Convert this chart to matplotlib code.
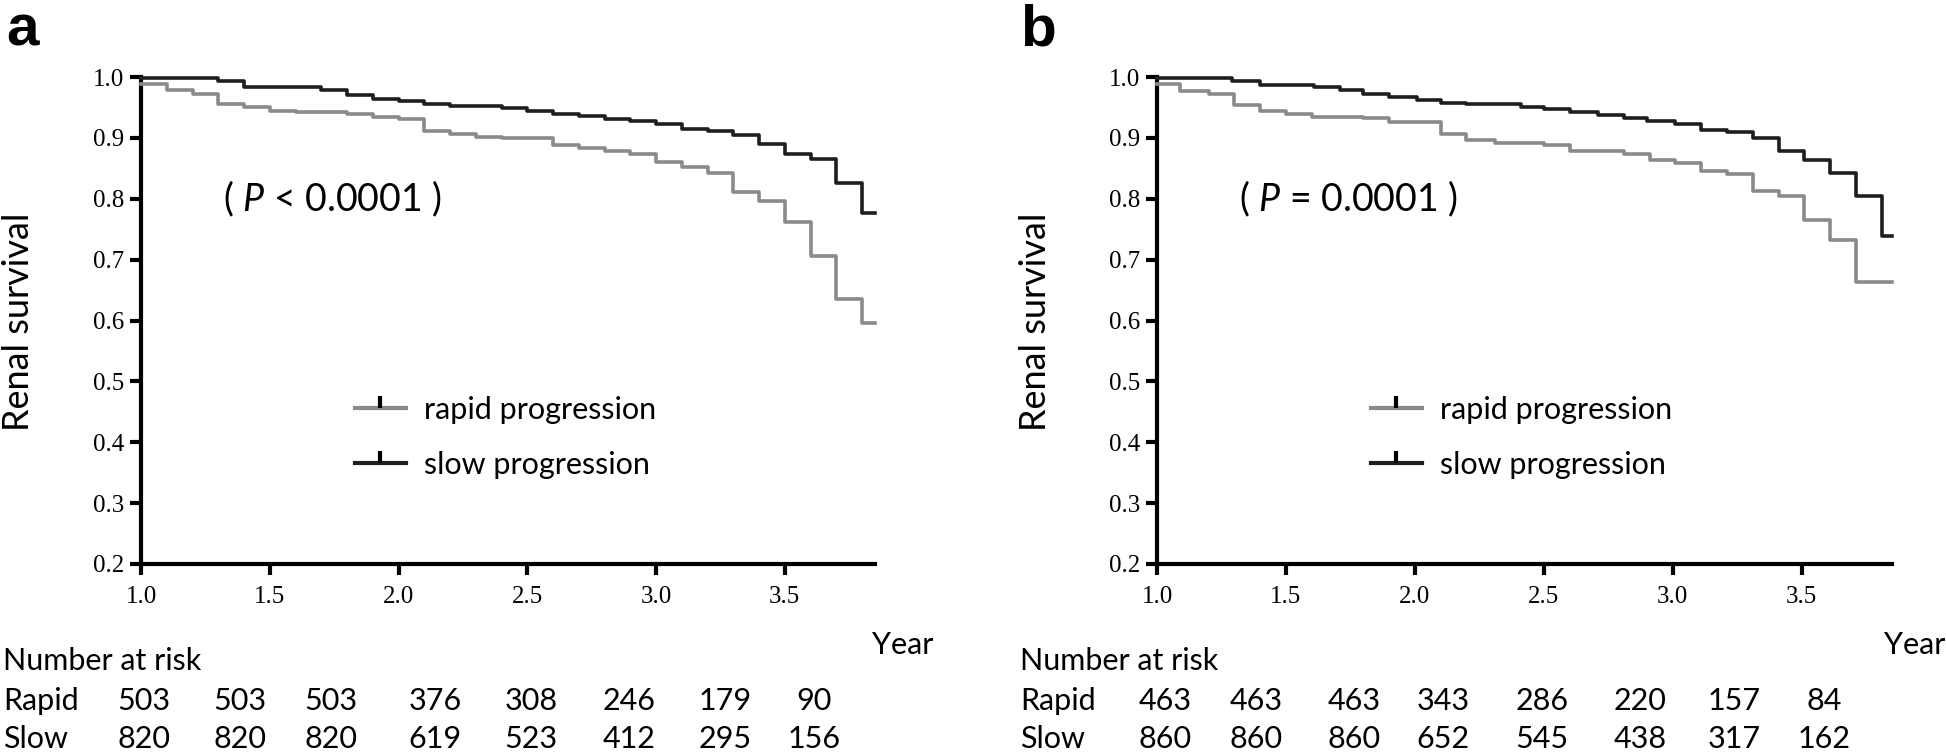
import matplotlib
matplotlib.use("Agg")
import matplotlib.pyplot as plt
from matplotlib.lines import Line2D

plt.rcParams['font.family'] = ['Lato', 'DejaVu Sans']
plt.rcParams['mathtext.fontset'] = 'custom'
plt.rcParams['mathtext.it'] = 'Lato:italic'
plt.rcParams['mathtext.rm'] = 'Lato'

# panel a - survival steps
a_slow_t = [1.0, 1.30, 1.40, 1.70, 1.80, 1.90, 2.00, 2.10, 2.20, 2.40, 2.50, 2.60,
            2.70, 2.80, 2.90, 3.00, 3.10, 3.20, 3.30, 3.40, 3.50, 3.60, 3.70, 3.80]
a_slow_s = [0.998, 0.994, 0.984, 0.979, 0.970, 0.964, 0.960, 0.956, 0.953, 0.949, 0.944, 0.940,
            0.936, 0.931, 0.927, 0.922, 0.915, 0.911, 0.904, 0.890, 0.873, 0.865, 0.826, 0.776]
a_rapid_t = [1.0, 1.10, 1.20, 1.30, 1.40, 1.50, 1.60, 1.80, 1.90, 2.00, 2.10, 2.20, 2.30, 2.40,
             2.60, 2.70, 2.80, 2.90, 3.00, 3.10, 3.20, 3.30, 3.40, 3.50, 3.60, 3.70, 3.80]
a_rapid_s = [0.989, 0.978, 0.972, 0.956, 0.950, 0.944, 0.942, 0.939, 0.934, 0.931, 0.912, 0.906,
             0.902, 0.899, 0.889, 0.883, 0.878, 0.873, 0.861, 0.852, 0.843, 0.811, 0.796, 0.761,
             0.706, 0.636, 0.596]

# panel b
b_slow_t = [1.0, 1.29, 1.40, 1.61, 1.71, 1.80, 1.90, 2.01, 2.10, 2.20, 2.41, 2.50, 2.60,
            2.71, 2.81, 2.90, 3.01, 3.11, 3.21, 3.31, 3.41, 3.51, 3.61, 3.71, 3.81]
b_slow_s = [0.998, 0.994, 0.987, 0.984, 0.979, 0.972, 0.967, 0.962, 0.958, 0.956, 0.950, 0.947,
            0.943, 0.937, 0.932, 0.928, 0.922, 0.913, 0.909, 0.899, 0.878, 0.863, 0.842, 0.804, 0.738]
b_rapid_t = [1.0, 1.09, 1.20, 1.30, 1.40, 1.50, 1.60, 1.80, 1.90, 2.10, 2.20, 2.31, 2.50, 2.60,
             2.81, 2.91, 3.01, 3.11, 3.21, 3.31, 3.41, 3.51, 3.61, 3.71]
b_rapid_s = [0.989, 0.977, 0.972, 0.954, 0.944, 0.939, 0.935, 0.932, 0.926, 0.906, 0.896, 0.891,
             0.888, 0.878, 0.873, 0.864, 0.859, 0.846, 0.840, 0.812, 0.804, 0.765, 0.732, 0.664]

t_end = 3.85
x_ticks = [1.0, 1.5, 2.0, 2.5, 3.0, 3.5]
y_ticks = [0.2, 0.3, 0.4, 0.5, 0.6, 0.7, 0.8, 0.9, 1.0]

# number at risk
a_risk_rapid = [503, 503, 503, 376, 308, 246, 179, 90]
a_risk_slow = [820, 820, 820, 619, 523, 412, 295, 156]
b_risk_rapid = [463, 463, 463, 343, 286, 220, 157, 84]
b_risk_slow = [860, 860, 860, 652, 545, 438, 317, 162]

p_texts = [r"( $P$ < 0.0001 )", r"( $P$ = 0.0001 )"]
panel_names = ["a", "b"]

W, H = 1946, 753
fig = plt.figure(figsize=(W / 100, H / 100), dpi=100)

def fx(x):
    return x / W

def fy(y):
    return 1 - y / H

SLOW_C = "#1e1e1e"
RAPID_C = "#8a8a8a"

# pixel layout of each panel
panels = [
    dict(left=141, right=875, top=77, bottom=564, name_x=6, tx0=3, ylab_x=19,
         risk_x=[144, 240, 331, 435, 531, 629, 725, 814], year_x=903,
         slow_t=a_slow_t, slow_s=a_slow_s, rapid_t=a_rapid_t, rapid_s=a_rapid_s,
         rr=a_risk_rapid, rs=a_risk_slow),
    dict(left=1157, right=1892, top=77, bottom=564, name_x=1020, tx0=1020, ylab_x=1035,
         risk_x=[1165, 1256, 1354, 1443, 1542, 1640, 1734, 1824], year_x=1915,
         slow_t=b_slow_t, slow_s=b_slow_s, rapid_t=b_rapid_t, rapid_s=b_rapid_s,
         rr=b_risk_rapid, rs=b_risk_slow),
]

for i, p in enumerate(panels):
    w = p['right'] - p['left']
    h = p['bottom'] - p['top']
    ax = fig.add_axes([fx(p['left']), fy(p['bottom']), fx(w), h / H])
    ax.step(p['rapid_t'] + [t_end], p['rapid_s'] + [p['rapid_s'][-1]], where='post',
            color=RAPID_C, lw=2.6, clip_on=False, zorder=3)
    ax.step(p['slow_t'] + [t_end], p['slow_s'] + [p['slow_s'][-1]], where='post',
            color=SLOW_C, lw=2.6, clip_on=False, zorder=4)
    ax.set_xlim(1.0, t_end)
    ax.set_ylim(0.2, 1.0)
    ax.set_xticks(x_ticks)
    ax.set_yticks(y_ticks)
    ax.set_xticklabels([f"{v:.1f}" for v in x_ticks], family='Liberation Serif', fontsize=18)
    ax.set_yticklabels([f"{v:.1f}" for v in y_ticks], family='Liberation Serif', fontsize=18)
    ax.tick_params(length=8, width=3, pad=4, color='black')
    ax.tick_params(axis='x', pad=8)
    for s in ['top', 'right']:
        ax.spines[s].set_visible(False)
    for s in ['left', 'bottom']:
        ax.spines[s].set_linewidth(3)

    fig.text(fx(p['ylab_x']), fy(322), "Renal survival", fontsize=26, rotation=90,
             ha='center', va='center')

    ax.text((223 - 141) / w, 1 - (199 - 77) / h, p_texts[i],
            transform=ax.transAxes, fontsize=27, va='center', ha='left')

    handles = [Line2D([], [], color=RAPID_C, lw=3, marker=2, markersize=9, mew=3, mec='black'),
               Line2D([], [], color=SLOW_C, lw=3, marker=2, markersize=9, mew=3, mec='black')]
    ax.legend(handles, ["rapid progression", "slow progression"], frameon=False,
              fontsize=22, loc='upper left', numpoints=1, handlelength=1.7, handletextpad=0.57,
              labelspacing=0.9,
              bbox_to_anchor=((327 - 141) / w, 1 - (368 - 77) / h))

    fig.text(fx(p['name_x']), fy(45), panel_names[i], fontsize=42, fontweight='bold',
             family='Liberation Sans', ha='left', va='baseline')

    fig.text(fx(p['year_x']), fy(645), "Year", fontsize=22, ha='center', va='center')
    fig.text(fx(p['tx0']), fy(661), "Number at risk", fontsize=22, ha='left', va='center')
    fig.text(fx(p['tx0']), fy(701), "Rapid", fontsize=22, ha='left', va='center')
    fig.text(fx(p['tx0']), fy(739), "Slow", fontsize=22, ha='left', va='center')
    for xx, r, s in zip(p['risk_x'], p['rr'], p['rs']):
        fig.text(fx(xx), fy(701), str(r), fontsize=22, ha='center', va='center')
        fig.text(fx(xx), fy(739), str(s), fontsize=22, ha='center', va='center')

fig.savefig("out.png", dpi=100)
